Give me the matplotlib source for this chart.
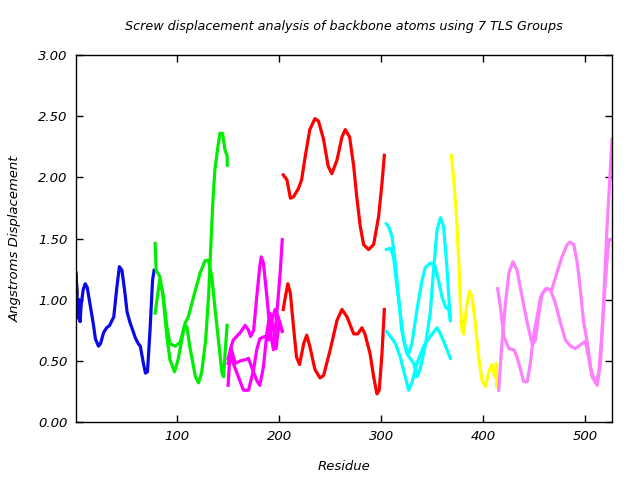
import matplotlib
matplotlib.use('Agg')
import matplotlib.pyplot as plt

# --- TLS group traces (residue, displacement) ---
g1_res = [1, 2]
g1_val = [1.20, 1.05]

g2_res = [1, 3, 4, 5, 6, 8, 10, 12, 15, 18, 20, 23, 25, 28, 31, 34, 38, 41, 43.5, 46,
          49, 51, 54, 57, 59, 62, 64, 67, 69, 71, 73.5, 76, 77.5]
g2_val = [1.22, 0.85, 1.00, 0.82, 0.95, 1.08, 1.13, 1.10, 0.95, 0.80, 0.68, 0.62, 0.64,
          0.73, 0.77, 0.79, 0.86, 1.10, 1.27, 1.24, 1.05, 0.90, 0.81, 0.74, 0.69, 0.64,
          0.62, 0.48, 0.40, 0.41, 0.75, 1.16, 1.24]

g3a_res = [78.5, 79.5, 83, 86.6, 90, 93, 98, 103, 108, 111, 118, 122.6, 127.5, 130.7,
           134, 137, 140.5, 144, 145.5, 147, 149]
g3a_val = [1.46, 1.24, 1.19, 1.02, 0.78, 0.64, 0.62, 0.65, 0.81, 0.86, 1.08, 1.22, 1.32,
           1.32, 1.19, 0.94, 0.67, 0.40, 0.37, 0.56, 0.79]
g3b_res = [78.5, 83, 86, 90, 93, 97.5, 101, 104.6, 107, 109.5, 113, 118, 121, 124, 128,
           131, 133, 135, 137, 140, 142, 144.5, 147, 149, 149.2]
g3b_val = [0.89, 1.16, 1.05, 0.70, 0.51, 0.41, 0.51, 0.67, 0.78, 0.78, 0.59, 0.37, 0.32,
           0.40, 0.67, 1.05, 1.43, 1.79, 2.06, 2.25, 2.36, 2.36, 2.22, 2.18, 2.10]

g4a_res = [150, 152, 155, 161.8, 166.7, 170, 172, 175, 178, 181, 182.4, 184.6, 188, 191,
           194.4, 197.7, 201, 203]
g4a_val = [0.30, 0.59, 0.67, 0.73, 0.79, 0.75, 0.70, 0.75, 1.02, 1.27, 1.35, 1.30, 1.02,
           0.75, 0.59, 0.89, 1.22, 1.49]
g4b_res = [150, 152, 155, 160, 165, 170, 175, 178, 181, 186, 189.5, 192.8, 196, 199, 202.7]
g4b_val = [0.48, 0.55, 0.48, 0.37, 0.26, 0.26, 0.43, 0.59, 0.68, 0.70, 0.67, 0.83, 0.92,
           0.86, 0.75]
g4c_res = [150, 153, 157, 162, 167, 170, 173, 178, 181, 184.6, 188, 191, 194, 197, 200, 203]
g4c_val = [0.52, 0.60, 0.48, 0.50, 0.51, 0.52, 0.45, 0.34, 0.30, 0.45, 0.73, 0.89, 0.78,
           0.60, 0.82, 0.74]

g5a_res = [204, 207.6, 211, 214, 219, 222, 225.5, 230, 235, 238.5, 243.5, 248, 251.6,
           256.6, 261.5, 264.7, 269, 273, 276, 279.4, 282.7, 287.6, 292.5, 297.4, 300.7, 303]
g5a_val = [2.02, 1.98, 1.83, 1.84, 1.91, 1.98, 2.17, 2.39, 2.48, 2.46, 2.31, 2.09, 2.03,
           2.14, 2.33, 2.39, 2.33, 2.09, 1.84, 1.60, 1.45, 1.41, 1.45, 1.68, 1.95, 2.18]
g5b_res = [204, 206, 208.5, 211, 214, 217, 220, 224, 227, 230, 235, 240, 243.5, 250,
           256.6, 261.5, 266.4, 273, 277, 281, 284, 289, 292.5, 295.8, 298, 300.7, 303]
g5b_val = [0.92, 1.02, 1.13, 1.05, 0.78, 0.53, 0.47, 0.64, 0.71, 0.62, 0.43, 0.36, 0.38,
           0.59, 0.83, 0.92, 0.86, 0.72, 0.72, 0.77, 0.72, 0.56, 0.37, 0.23, 0.26, 0.56, 0.92]

g6a_res = [305, 307, 310.5, 313.7, 317, 320, 323.5, 326.8, 330, 335, 340, 343, 348, 353,
           356, 359.5, 363, 366, 367.7]
g6a_val = [1.62, 1.60, 1.52, 1.30, 1.02, 0.75, 0.62, 0.56, 0.64, 0.92, 1.16, 1.26, 1.30,
           1.27, 1.16, 1.02, 0.94, 0.92, 0.83]
g6b_res = [305, 309, 312, 315, 318.6, 322, 325, 331.7, 335, 338, 343, 348, 351, 354.6,
           358, 361, 364, 367.7]
g6b_val = [1.41, 1.42, 1.35, 1.13, 0.89, 0.67, 0.56, 0.48, 0.37, 0.43, 0.62, 0.89, 1.22,
           1.57, 1.67, 1.60, 1.30, 0.83]
g6c_res = [305, 309, 314, 318.6, 323.5, 326.8, 330, 335, 341.5, 348, 354.6, 358, 363, 367.7]
g6c_val = [0.74, 0.70, 0.64, 0.53, 0.37, 0.26, 0.32, 0.48, 0.62, 0.70, 0.77, 0.72, 0.62, 0.52]

g7_res = [368.6, 371, 373.5, 376, 377.5, 379, 380.7, 384, 386.6, 389, 392, 395.4, 398.7,
          402, 405, 408.5, 411, 412.8, 413]
g7_val = [2.18, 1.98, 1.71, 1.30, 0.97, 0.75, 0.72, 0.97, 1.07, 1.02, 0.81, 0.53, 0.34,
          0.29, 0.40, 0.47, 0.37, 0.48, 0.29]

g8a_res = [414, 416.7, 420, 425, 430, 433, 436.3, 439.5, 443, 446, 449, 452.6, 456, 461,
           465.7, 470.6, 475.5, 480.4, 485.3, 490, 495, 500, 503, 506.5, 510, 513, 516.4,
           519.6, 522.9, 525]
g8a_val = [1.09, 0.94, 0.70, 0.60, 0.59, 0.53, 0.43, 0.33, 0.33, 0.48, 0.70, 0.86, 1.02,
           1.09, 1.08, 0.97, 0.81, 0.67, 0.62, 0.60, 0.63, 0.66, 0.53, 0.37, 0.32, 0.40,
           0.75, 1.16, 1.49, 1.49]
g8b_res = [415, 418, 421.6, 425, 429, 433, 438, 443, 448, 451, 454, 457.5, 462.5, 467,
           472, 477, 482, 485, 488.6, 492, 495, 498, 502, 505, 508, 511.5, 514.7, 518, 521,
           523.8, 526]
g8b_val = [0.26, 0.62, 0.97, 1.22, 1.31, 1.24, 1.02, 0.81, 0.63, 0.67, 0.86, 1.05, 1.09,
           1.08, 1.22, 1.35, 1.45, 1.47, 1.45, 1.30, 1.08, 0.83, 0.64, 0.45, 0.36, 0.30,
           0.48, 1.02, 1.57, 1.98, 2.31]

traces = [
    (g1_res, g1_val, '#000000'),
    (g2_res, g2_val, '#0a0ae6'),
    (g3a_res, g3a_val, '#00ee00'),
    (g3b_res, g3b_val, '#00ee00'),
    (g4a_res, g4a_val, '#ff00ff'),
    (g4b_res, g4b_val, '#ff00ff'),
    (g4c_res, g4c_val, '#ff00ff'),
    (g5a_res, g5a_val, '#ff0000'),
    (g5b_res, g5b_val, '#ff0000'),
    (g6a_res, g6a_val, '#00ffff'),
    (g6b_res, g6b_val, '#00ffff'),
    (g6c_res, g6c_val, '#00ffff'),
    (g7_res, g7_val, '#ffff00'),
    (g8a_res, g8a_val, '#ff80ff'),
    (g8b_res, g8b_val, '#ff80ff'),
]

x_ticks = [100, 200, 300, 400, 500]
y_ticks = [0.0, 0.5, 1.0, 1.5, 2.0, 2.5, 3.0]

fig = plt.figure(figsize=(6.4, 4.8), dpi=100)
ax = fig.add_axes([76 / 640, 1 - 422 / 480, (612 - 76) / 640, (422 - 55) / 480])

for res, val, col in traces:
    ax.plot(res, val, color=col, lw=2.3, solid_joinstyle='round')

ax.set_xlim(1, 526)
ax.set_ylim(0, 3.0)
ax.set_xticks(x_ticks)
ax.set_yticks(y_ticks)
ax.set_yticklabels([f'{v:.2f}' for v in y_ticks])
ax.tick_params(direction='in', top=True, right=True, length=5, width=1,
               labelsize=9.5, pad=6)
for lab in ax.get_xticklabels() + ax.get_yticklabels():
    lab.set_fontstyle('italic')
for sp in ax.spines.values():
    sp.set_linewidth(1)

ax.set_title('Screw displacement analysis of backbone atoms using 7 TLS Groups',
             fontsize=9.2, style='italic', pad=18)
ax.set_xlabel('Residue', fontsize=9.5, style='italic', labelpad=12)
ax.set_ylabel('Angstroms Displacement', fontsize=9.5, style='italic', labelpad=12)

plt.savefig('out.png', dpi=100)
